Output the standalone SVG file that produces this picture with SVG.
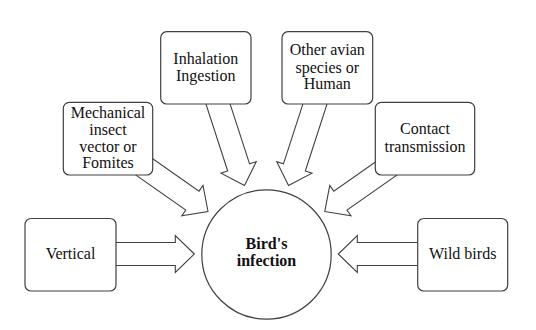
<svg xmlns="http://www.w3.org/2000/svg" width="536" height="330" viewBox="0 0 536 330">
<style>
.box{fill:#fff;stroke:#404040;stroke-width:1.2}
.arr{fill:#fff;stroke:#404040;stroke-width:1.1;stroke-linejoin:miter}
text{font-family:"Liberation Serif","Times New Roman",serif;font-size:16px;fill:#111;text-anchor:middle}
.b{font-weight:bold}
</style>
<rect width="536" height="330" fill="#fff"/>
<g id="connectors">
<polygon class="arr" transform="translate(194.3,254)" points="0,0 -19,-18.5 -19,-11.5 -80,-11.5 -80,11.5 -19,11.5 -19,18.5"/>
<polygon class="arr" transform="translate(338.3,254) rotate(180)" points="0,0 -19,-18.5 -19,-11.5 -82,-11.5 -82,11.5 -19,11.5 -19,18.5"/>
<polygon class="arr" transform="translate(208,211.5) rotate(35)" points="0,0 -19,-18.5 -19,-11.5 -82,-11.5 -82,11.5 -19,11.5 -19,18.5"/>
<polygon class="arr" transform="translate(324.8,211.5) rotate(145)" points="0,0 -19,-18.5 -19,-11.5 -82,-11.5 -82,11.5 -19,11.5 -19,18.5"/>
<polygon class="arr" transform="translate(244.5,185.5) rotate(72)" points="0,0 -19,-18.5 -19,-11.5 -90,-11.5 -90,11.5 -19,11.5 -19,18.5"/>
<polygon class="arr" transform="translate(288.5,185.5) rotate(108)" points="0,0 -19,-18.5 -19,-11.5 -90,-11.5 -90,11.5 -19,11.5 -19,18.5"/>
</g>
<g id="center">
<circle class="box" cx="266.5" cy="254.5" r="64.7"/>
<text class="b" x="266.5" y="249.3">Bird's</text>
<text class="b" x="266.5" y="265.7">infection</text>
</g>
<g id="vertical">
<rect class="box" x="25" y="218.5" width="91" height="72.5" rx="6"/>
<text x="70.5" y="259">Vertical</text>
</g>
<g id="wild-birds">
<rect class="box" x="417.7" y="218.5" width="90" height="72.5" rx="6"/>
<text x="462.7" y="258.5">Wild birds</text>
</g>
<g id="mechanical">
<rect class="box" x="63.3" y="102.3" width="89.4" height="72.7" rx="6"/>
<text x="108" y="118">Mechanical</text>
<text x="108" y="134.8">insect</text>
<text x="108" y="151.6">vector or</text>
<text x="108" y="168.4">Fomites</text>
</g>
<g id="inhalation">
<rect class="box" x="160.7" y="31.7" width="90.3" height="72.3" rx="6"/>
<text x="205.8" y="63.5">Inhalation</text>
<text x="205.8" y="81">Ingestion</text>
</g>
<g id="other-avian">
<rect class="box" x="282" y="31.7" width="90.7" height="72.3" rx="6"/>
<text x="327.3" y="55">Other avian</text>
<text x="327.3" y="72.6">species or</text>
<text x="327.3" y="89.3">Human</text>
</g>
<g id="contact">
<rect class="box" x="375.3" y="102.3" width="99.4" height="72.7" rx="6"/>
<text x="425" y="134.3">Contact</text>
<text x="425" y="151.7">transmission</text>
</g>
</svg>
